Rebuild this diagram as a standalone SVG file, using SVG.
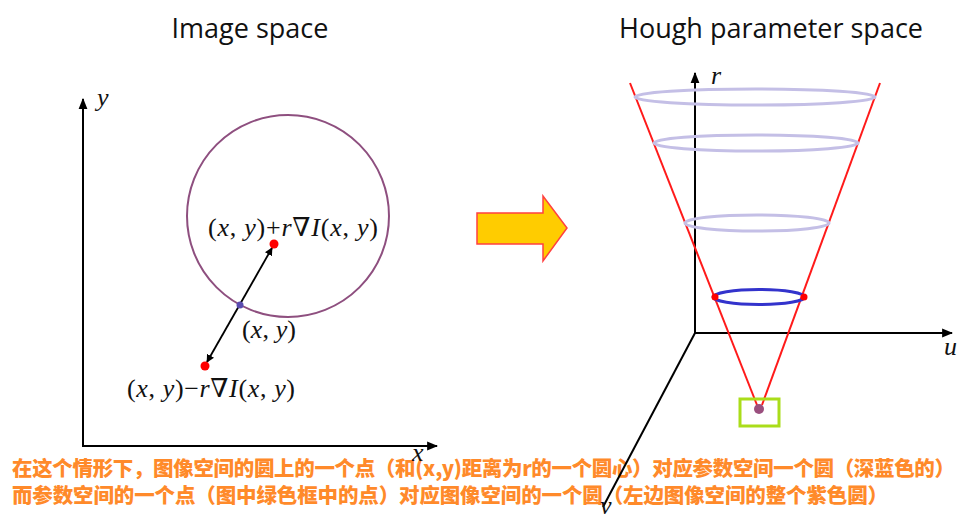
<svg xmlns="http://www.w3.org/2000/svg" width="980" height="526" viewBox="0 0 980 526">
<style>
.title{font-family:"Open Sans","Liberation Sans",sans-serif;font-size:27px;fill:#111}
.math{font-family:"Liberation Serif","DejaVu Serif",serif;font-size:26px;fill:#111}
.it{font-style:italic}
.note{font-family:"Noto Sans CJK SC","Noto Sans",sans-serif;font-size:20.5px;font-weight:900;fill:#ff8a2a}
.axis{stroke:#000;stroke-width:2;fill:none}
.ring{fill:none;stroke:#c4bfe6;stroke-width:3}
.cone{stroke:#ff1a1a;stroke-width:2;fill:none}
</style>
<defs>
<marker id="ah" viewBox="0 0 10 10" refX="9" refY="5" markerWidth="8" markerHeight="8" markerUnits="userSpaceOnUse" orient="auto-start-reverse"><path d="M0,0 L10,5 L0,10 z" fill="#000"/></marker>
<marker id="ax" viewBox="0 0 10 10" refX="9" refY="5" markerWidth="11" markerHeight="11" markerUnits="userSpaceOnUse" orient="auto"><path d="M0,1 L10,5 L0,9 z" fill="#000"/></marker>
</defs>
<rect width="980" height="526" fill="#fff"/>
<text class="title" x="250" y="38" text-anchor="middle">Image space</text>
<text class="title" x="771" y="38" text-anchor="middle">Hough parameter space</text>
<g id="note">
<text class="note" x="12" y="476" textLength="943">在这个情形下，图像空间的圆上的一个点（和(x,y)距离为r的一个圆心）对应参数空间一个圆（深蓝色的）</text>
<text class="note" x="12" y="503" textLength="876">而参数空间的一个点（图中绿色框中的点）对应图像空间的一个圆（左边图像空间的整个紫色圆）</text>
</g>
<g id="image-axes">
<line class="axis" x1="83" y1="446" x2="83" y2="99" marker-end="url(#ax)"/>
<line class="axis" x1="82" y1="446" x2="437" y2="446" marker-end="url(#ax)"/>
<text class="math it" x="97" y="106" font-size="22">y</text>
<text class="math it" x="412" y="461" font-size="22">x</text>
</g>
<g id="image-circle">
<circle cx="288" cy="216" r="101" fill="none" stroke="#8e4f7f" stroke-width="2"/>
</g>
<g id="connectors">
<line x1="207" y1="362" x2="272" y2="248" stroke="#000" stroke-width="1.8" marker-start="url(#ah)" marker-end="url(#ah)"/>
</g>
<g id="point-plus">
<circle cx="274" cy="244" r="4.5" fill="#f00"/>
<text class="math" x="208" y="236" textLength="170">(<tspan class="it">x</tspan>, <tspan class="it">y</tspan>)+<tspan class="it">r</tspan>∇<tspan class="it">I</tspan>(<tspan class="it">x</tspan>, <tspan class="it">y</tspan>)</text>
</g>
<g id="point-xy">
<circle cx="240" cy="305" r="3.5" fill="#5a4cb0"/>
<text class="math" x="242" y="338" textLength="54">(<tspan class="it">x</tspan>, <tspan class="it">y</tspan>)</text>
</g>
<g id="point-minus">
<circle cx="205" cy="366" r="4.5" fill="#f00"/>
<text class="math" x="127" y="397" textLength="168">(<tspan class="it">x</tspan>, <tspan class="it">y</tspan>)−<tspan class="it">r</tspan>∇<tspan class="it">I</tspan>(<tspan class="it">x</tspan>, <tspan class="it">y</tspan>)</text>
</g>
<g id="arrow">
<polygon points="477,213 543,213 543,196 567,228 543,261 543,244 477,244" fill="#ffcc00" stroke="#ff4040" stroke-width="1.5"/>
</g>
<g id="hough-axes">
<line class="axis" x1="695" y1="334" x2="695" y2="73" marker-end="url(#ax)"/>
<line class="axis" x1="694" y1="333" x2="952" y2="333" marker-end="url(#ax)"/>
<line class="axis" x1="695" y1="333" x2="603" y2="507"/>
<text class="math it" x="711" y="84" font-size="22">r</text>
<text class="math it" x="944" y="355" font-size="22">u</text>
<text class="math it" x="600" y="514" font-size="22">v</text>
</g>
<g id="cone">
<line class="cone" x1="630" y1="83" x2="757" y2="405"/>
<line class="cone" x1="880" y1="83" x2="762" y2="405"/>
</g>
<g id="rings">
<ellipse class="ring" cx="755" cy="97" rx="120" ry="8"/>
<ellipse class="ring" cx="756" cy="143" rx="102" ry="8"/>
<ellipse class="ring" cx="757" cy="223" rx="72" ry="8"/>
</g>
<g id="blue-circle">
<ellipse cx="759" cy="297" rx="46" ry="7.5" fill="none" stroke="#3333cc" stroke-width="3"/>
<circle cx="715" cy="297" r="3.5" fill="#f00"/>
<circle cx="804" cy="297" r="3.5" fill="#f00"/>
</g>
<g id="param-point">
<rect x="740" y="399" width="39" height="27" fill="none" stroke="#aadd1a" stroke-width="3"/>
<circle cx="759" cy="409" r="5" fill="#9a4f7e"/>
</g>
</svg>
